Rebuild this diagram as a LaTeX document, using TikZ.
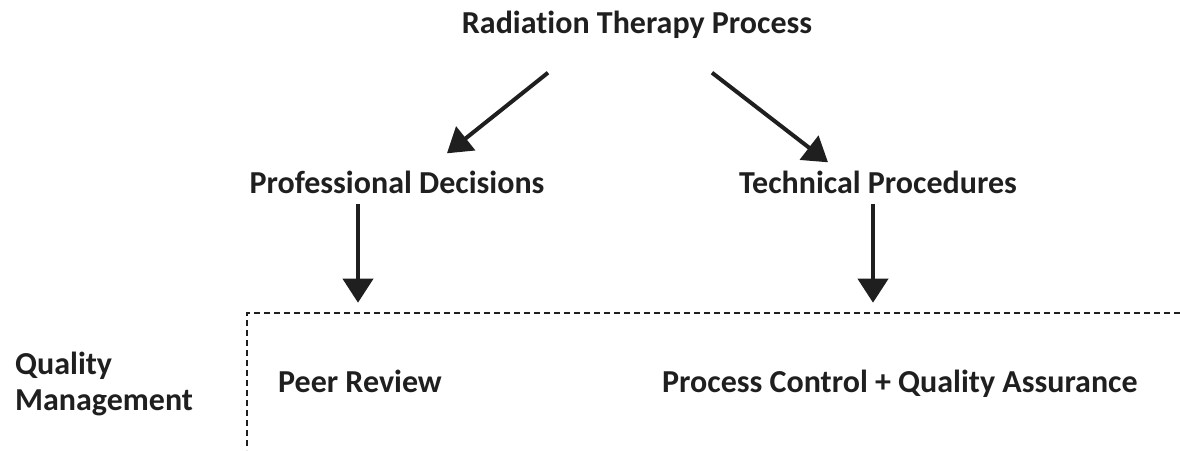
\documentclass[tikz,border=0pt]{standalone}
\usepackage{fontspec}
\setmainfont{Carlito}[Ligatures=NoCommon]
\usetikzlibrary{arrows.meta, positioning}

\tikzset{
	lbl/.style={inner sep=0pt, text height=21pt, text depth=0pt, font=\fontsize{32}{36}\selectfont\bfseries, text=black!88},
	arr/.style={line width=4pt, draw=black!88, -{Triangle[width=30pt,length=24pt]}},
	qmline/.style={line width=1.6pt, draw=black!88, dash pattern=on 6pt off 4pt}
}

\begin{document}
\begin{tikzpicture}[x=1pt, y=-1pt]
		\useasboundingbox (0,0) rectangle (1180,450);
		
		\node[lbl] (rtp) at (637,23) {Radiation Therapy Process};
		\node[lbl] (pd) at (397,183) {Professional Decisions};
		\node[lbl] (tp) at (878,183) {Technical Procedures};
		
		\node[lbl, anchor=west] (pr) at (278,382) {Peer Review};
		\node[lbl, anchor=west] (pc) at (662,382) {Process Control + Quality Assurance};
		\node[lbl, text height=, align=left, anchor=west] (qm) at (15,381) {Quality\\Management};
		
		\draw[arr] ([xshift=-89pt,yshift=-39pt]rtp.south) -- ([xshift=50pt,yshift=19pt]pd.north);
		\draw[arr] ([xshift=75pt,yshift=-39pt]rtp.south) -- ([xshift=-50pt,yshift=10pt]tp.north);
		
		\draw[arr] ([xshift=-39pt,yshift=-10pt]pd.south) -- ([xshift=-39pt,yshift=-109pt]pd.south);
		\draw[arr] ([xshift=-5pt,yshift=-10pt]tp.south) -- ([xshift=-5pt,yshift=-109pt]tp.south);
		
		% dashed frame round the quality management part
		\coordinate (corner) at (247,313);
		\draw[qmline] (1180,313) -- (corner) -- (247,450);
	\end{tikzpicture}
\end{document}
